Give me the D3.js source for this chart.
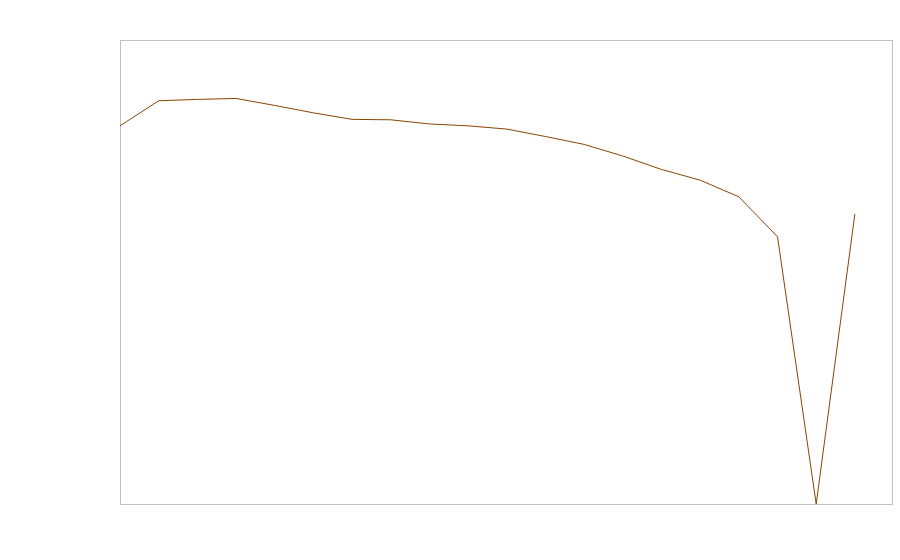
<!DOCTYPE html>
<html>
<head>
<meta charset="utf-8">
<script src="https://cdn.jsdelivr.net/npm/d3@7"></script>
<style>
  body { margin: 0; background: #fff; }
</style>
</head>
<body>
<div class="container"></div>
<script>
var width = 900,
  height = 560,
  margin = { top: 40, right: 8, bottom: 56, left: 120 };

// series (index -> value)
var steps = d3.range(20);
var values = [81.5, 86.9, 87.2, 87.4, 85.9, 84.3, 82.9, 82.8, 81.9, 81.5,
  80.8, 79.2, 77.5, 75.0, 72.1, 69.8, 66.2, 57.6, 0, 62.5];

var innerW = width - margin.left - margin.right,
  innerH = height - margin.top - margin.bottom;

var svg = d3.select(".container").append("svg")
  .attr("width", width)
  .attr("height", height);

var x = d3.scaleLinear()
  .domain([0, 19.96])
  .range([margin.left, margin.left + innerW]);

var y = d3.scaleLinear()
  .domain([0, 100])
  .range([margin.top + innerH, margin.top]);

// plot frame
svg.append("rect")
  .attr("x", margin.left + 0.5)
  .attr("y", margin.top + 0.5)
  .attr("width", innerW)
  .attr("height", innerH)
  .attr("fill", "none")
  .attr("stroke", "#c0c0c0")
  .attr("stroke-width", 1);

var line = d3.line()
  .x(function (d, i) { return x(steps[i]); })
  .y(function (d) { return y(d); });

svg.append("path")
  .datum(values)
  .attr("fill", "none")
  .attr("stroke", "#8b4500")
  .attr("stroke-width", 1)
  .attr("d", line);
</script>
</body>
</html>
